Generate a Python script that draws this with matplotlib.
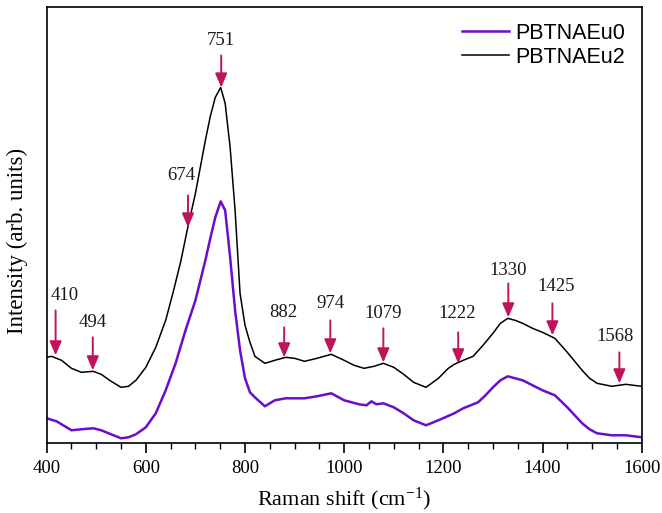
import matplotlib
matplotlib.use("Agg")
import matplotlib.pyplot as plt
from matplotlib.ticker import MultipleLocator

# ---------------- data ----------------
shift_eu2 = [400, 410, 430, 450, 470, 494, 510, 530, 550, 565, 580, 600, 620, 640, 655, 670,
             685, 700, 720, 730, 740, 751, 760, 770, 780, 790, 800, 810, 820, 840, 860, 882, 900,
             920, 945, 974, 1000, 1020, 1040, 1060, 1079, 1100, 1120, 1140, 1165, 1190, 1210,
             1222, 1240, 1260, 1280, 1300, 1315, 1330, 1345, 1360, 1380, 1400, 1425, 1450,
             1465, 1480, 1495, 1510, 1540, 1568, 1600]
int_eu2 = [86, 87, 83, 75, 71, 72, 69, 62, 56, 57, 63, 76, 96, 123, 151, 181,
           217, 250, 303, 327, 346, 356, 340, 296, 233, 150, 118, 101, 87, 80, 83, 86, 85,
           82, 85, 89, 83, 78, 75, 77, 80, 76, 69, 61, 56, 65, 75,
           79, 83, 87, 98, 110, 120, 125, 123, 120, 115, 111, 105, 91,
           82, 73, 65, 60, 57, 59, 57]

shift_eu0 = [400, 420, 450, 470, 494, 510, 530, 550, 565, 580, 600, 620, 640, 660, 680, 700,
             710, 720, 730, 740, 751, 760, 770, 780, 790, 800, 810, 820, 840, 860, 882, 920,
             945, 974, 1000, 1030, 1045, 1055, 1065, 1079, 1100, 1120, 1140, 1165, 1190, 1222,
             1240, 1255, 1270, 1285, 1300, 1315, 1330, 1345, 1360, 1380, 1400, 1425, 1450, 1465,
             1480, 1495, 1510, 1540, 1568, 1600]
int_eu0 = [25, 22, 13, 14, 15, 13, 9, 5, 6, 9, 16, 30, 53, 80, 113, 143,
           163, 183, 205, 226, 242, 233, 186, 133, 93, 65, 51, 46, 37, 43, 45, 45,
           47, 50, 43, 39, 38, 42, 39, 40, 36, 30, 23, 18, 23, 30,
           35, 38, 41, 48, 56, 63, 67, 65, 63, 58, 53, 48, 36, 28,
           20, 14, 10, 8, 8, 6]

peak_labels = ["410", "494", "674", "751", "882", "974", "1079", "1222", "1330", "1425", "1568"]

# annotation layout (data coordinates)
arrow_x = [418, 493, 685, 752, 879, 972, 1079, 1230, 1331, 1420, 1555]
arrow_top = [133, 106, 248, 388, 116, 123, 115, 111, 160, 140, 91]
arrow_tip = [88, 73, 216, 356, 86, 90, 81, 80, 126, 108, 60]
label_x = [437, 493, 672, 752, 877, 972, 1079, 1228, 1331, 1428, 1546]
label_y = [148, 121, 268, 403, 131, 140, 130, 130, 173, 157, 107]

# ---------------- plot ----------------
plt.rcParams['font.family'] = ['Liberation Serif', 'DejaVu Serif']
plt.rcParams['mathtext.fontset'] = 'custom'
plt.rcParams['mathtext.rm'] = 'Liberation Serif'
plt.rcParams['mathtext.it'] = 'Liberation Serif:italic'

fig = plt.figure(figsize=(6.62, 5.13), dpi=100)
ax = fig.add_axes([0.0705, 0.1359, 0.8988, 0.8495])

ax.plot(shift_eu0, int_eu0, color='#6A0DCC', lw=1.8, label='PBTNAEu0')
ax.plot(shift_eu2, int_eu2, color='black', lw=1.1, label='PBTNAEu2')

arrow_color = '#C0145A'
for lab, ax_x, top, tip, lx, ly in zip(peak_labels, arrow_x, arrow_top, arrow_tip, label_x, label_y):
    ax.annotate('', xy=(ax_x, tip), xytext=(ax_x, top),
                arrowprops=dict(arrowstyle='-|>,head_length=0.7,head_width=0.3',
                                color=arrow_color, lw=1.4, shrinkA=0, shrinkB=0,
                                mutation_scale=12))
    ax.text(lx, ly, lab, ha='center', va='center', fontsize=13.5, color='#1a1a1a')

ax.set_xlim(400, 1600)
ax.set_ylim(0, 436)
ax.xaxis.set_major_locator(MultipleLocator(200))
ax.xaxis.set_minor_locator(MultipleLocator(50))
ax.tick_params(axis='x', which='major', direction='out', length=7, width=1.2,
               labelsize=13.5, pad=5)
ax.tick_params(axis='x', which='minor', direction='out', length=4, width=1.0)
ax.set_yticks([])
for sp in ax.spines.values():
    sp.set_linewidth(1.2)

ax.set_xlabel('Raman shift (cm$^{-1}$)', fontsize=16, labelpad=6)
ax.set_ylabel('Intensity (arb. units)', fontsize=16.5)
ax.yaxis.set_label_coords(-0.031, 0.465)

leg = ax.legend(loc='upper right', bbox_to_anchor=(1.005, 1.01), frameon=False,
                prop={'family': 'Liberation Sans', 'size': 15.5},
                handlelength=2.2, handletextpad=0.3, labelspacing=0.15)

fig.savefig('out.png', dpi=100)
